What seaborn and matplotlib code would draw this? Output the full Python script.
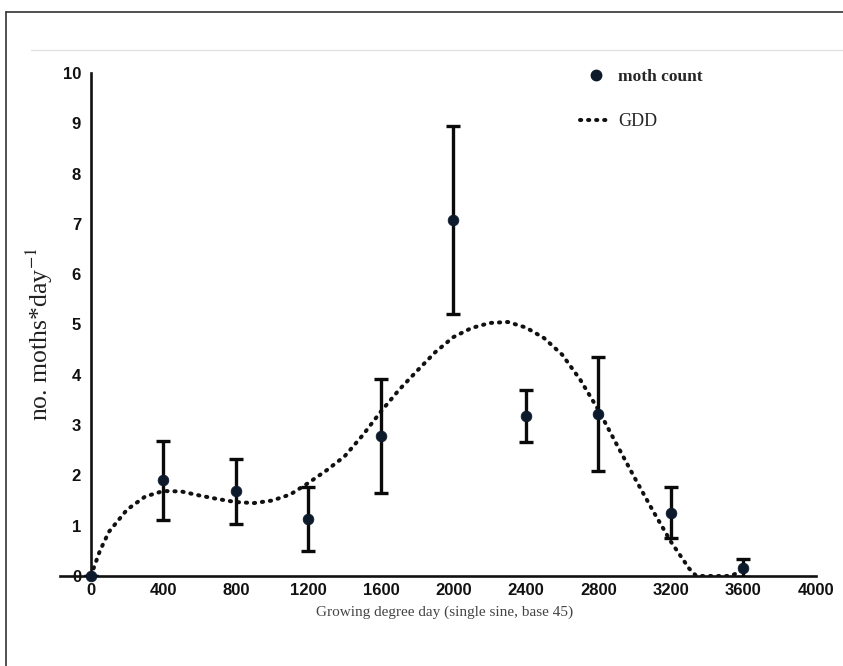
import numpy as np
import pandas as pd
import matplotlib
matplotlib.use("Agg")
import matplotlib.pyplot as plt
from matplotlib.lines import Line2D
import seaborn as sns

# --- dados ---
gdd_pontos = [0, 400, 800, 1200, 1600, 2000, 2400, 2800, 3200, 3600]
mariposas = [0.0, 1.90, 1.68, 1.13, 2.79, 7.08, 3.18, 3.22, 1.26, 0.16]
erro = [0.0, 0.78, 0.65, 0.64, 1.13, 1.87, 0.52, 1.13, 0.50, 0.18]

# curva de tendência (GDD), lida ponto a ponto
curva_x = [0, 50, 100, 200, 300, 400, 500, 600, 700, 800, 900, 1000, 1100,
           1200, 1300, 1400, 1500, 1600, 1700, 1800, 1900, 2000, 2100, 2200,
           2300, 2400, 2500, 2600, 2700, 2800, 2900, 3000, 3100, 3200, 3300,
           3340, 3530, 3600]
curva_y = [0.0, 0.50, 0.88, 1.32, 1.58, 1.69, 1.68, 1.60, 1.53, 1.47, 1.45,
           1.50, 1.62, 1.85, 2.10, 2.38, 2.80, 3.27, 3.70, 4.08, 4.45, 4.75,
           4.93, 5.03, 5.05, 4.94, 4.73, 4.40, 3.90, 3.30, 2.62, 1.95, 1.30,
           0.68, 0.15, 0.0, 0.0, 0.12]

ticks_x = [0, 400, 800, 1200, 1600, 2000, 2400, 2800, 3200, 3600, 4000]
ticks_y = list(range(0, 11))

sns.set_style("white")
plt.rcParams['mathtext.fontset'] = 'stix'

FONTE_TICK = ['Liberation Sans', 'DejaVu Sans']
FONTE_SERIF = ['Liberation Serif', 'DejaVu Serif']
PONTILHADO = (0, (0.3, 1.7))

fig = plt.figure(figsize=(8.43, 6.66), dpi=100)
ax = fig.add_axes([60 / 843, 1 - 576 / 666, 756 / 843, 503 / 666])

df_curva = pd.DataFrame({'x': curva_x, 'y': curva_y})
sns.lineplot(data=df_curva, x='x', y='y', ax=ax, color='#111111',
             linewidth=2.9, linestyle=PONTILHADO, dash_capstyle='round',
             sort=False, label='GDD', zorder=2)

ax.errorbar(gdd_pontos, mariposas, yerr=erro, fmt='none', ecolor='#0a0a0a',
            elinewidth=2.4, capsize=5, capthick=2.4, zorder=3)

df_pts = pd.DataFrame({'x': gdd_pontos, 'y': mariposas})
sns.scatterplot(data=df_pts, x='x', y='y', ax=ax, color='#0d1a2b', s=60,
                edgecolor='#0d1a2b', linewidth=0.5, label='moth count',
                zorder=4, clip_on=False)

ax.set_xlim(-170, 4000)
ax.set_ylim(0, 10)
ax.set_xticks(ticks_x)
ax.set_yticks(ticks_y)

for lado in ['top', 'right']:
    ax.spines[lado].set_visible(False)
ax.spines['left'].set_position(('data', 0))
for lado in ['left', 'bottom']:
    ax.spines[lado].set_linewidth(1.9)
    ax.spines[lado].set_color('#111111')
ax.spines['left'].set_zorder(1)

ax.tick_params(axis='both', length=0)
ax.tick_params(axis='x', pad=5)
ax.tick_params(axis='y', pad=7)
for lab in ax.get_xticklabels() + ax.get_yticklabels():
    lab.set_family(FONTE_TICK)
    lab.set_fontweight('bold')
    lab.set_fontsize(12)
    lab.set_color('#111111')

ax.set_xlabel('Growing degree day (single sine, base 45)', family=FONTE_SERIF,
              fontsize=11, color='#444444')
ax.set_ylabel(r'no. moths*day$^{-1}$', family=FONTE_SERIF, fontsize=18.5,
              color='#222222')
ax.xaxis.set_label_coords(0.509, -0.058)
ax.yaxis.set_label_coords(-0.006, 0.48)

# legenda
handles = [Line2D([], [], marker='o', linestyle='none', color='#0d1a2b',
                  markersize=7.5),
           Line2D([], [], color='#111111', linewidth=2.9,
                  linestyle=PONTILHADO, dash_capstyle='round')]
leg = ax.legend(handles, ['moth count', 'GDD'], loc='upper left',
                bbox_to_anchor=(0.667, 1.039), frameon=False,
                labelspacing=1.6, handlelength=1.8, handletextpad=0.4,
                fontsize=12.5)
txts = leg.get_texts()
txts[0].set_family(FONTE_SERIF)
txts[0].set_fontweight('bold')
txts[0].set_fontsize(12.5)
txts[1].set_family(FONTE_SERIF)
txts[1].set_fontsize(13)

# moldura do gráfico (estilo Excel)
fig.add_artist(Line2D([6 / 843, 1], [1 - 12 / 666, 1 - 12 / 666],
                      color='#333333', linewidth=1.2))
fig.add_artist(Line2D([6 / 843, 6 / 843], [0, 1 - 12 / 666],
                      color='#333333', linewidth=1.2))
fig.add_artist(Line2D([31 / 843, 1], [1 - 50 / 666, 1 - 50 / 666],
                      color='#e3e3e3', linewidth=1.0))

fig.savefig('out.png', dpi=100)
